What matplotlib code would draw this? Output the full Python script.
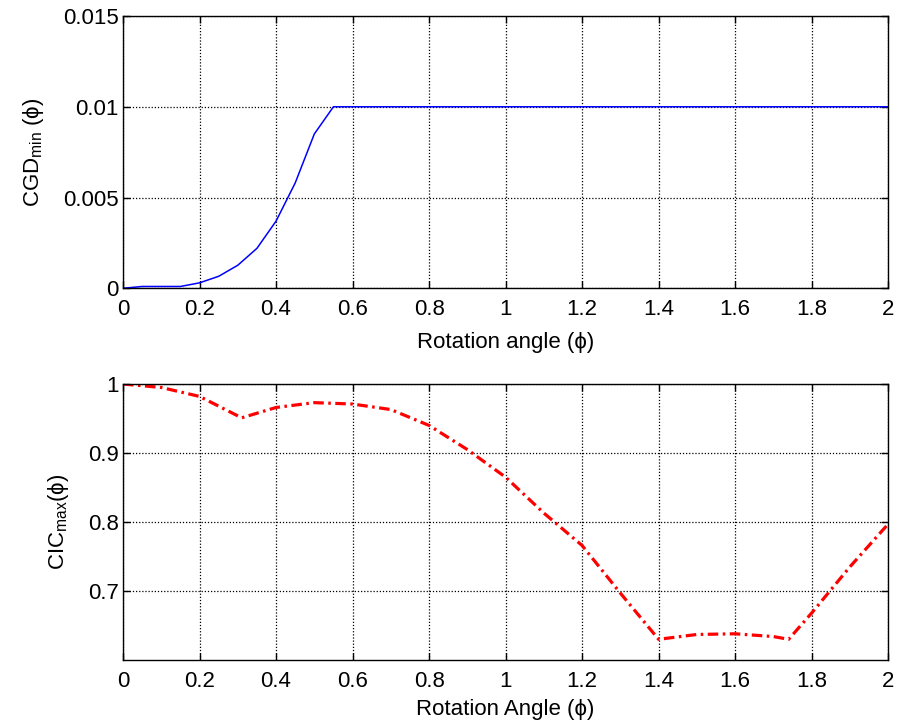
import matplotlib
matplotlib.use("Agg")
import matplotlib.pyplot as plt
import numpy as np

plt.rcParams['font.family'] = ['Liberation Sans', 'DejaVu Sans']
plt.rcParams['mathtext.default'] = 'regular'
plt.rcParams['font.size'] = 16

# Top panel data
cgd_x = [0, 0.05, 0.10, 0.15, 0.20, 0.25, 0.30, 0.35, 0.40, 0.45, 0.50, 0.55,
         0.60, 0.80, 1.00, 1.20, 1.40, 1.60, 1.80, 2.00]
cgd_y = [0, 0.0001, 0.0001, 0.0001, 0.0003, 0.00066, 0.00127, 0.0022, 0.0037,
         0.0058, 0.0085, 0.01, 0.01, 0.01, 0.01, 0.01, 0.01, 0.01, 0.01, 0.01]

# Bottom panel data
cic_x = [0, 0.1, 0.2, 0.31, 0.4, 0.5, 0.6, 0.7, 0.8, 0.9, 1.0, 1.1, 1.2, 1.3,
         1.4, 1.5, 1.6, 1.7, 1.74, 1.8, 1.9, 2.0]
cic_y = [1.0, 0.995, 0.982, 0.951, 0.966, 0.973, 0.971, 0.963, 0.940, 0.905,
         0.865, 0.813, 0.766, 0.697, 0.630, 0.637, 0.638, 0.634, 0.630, 0.668,
         0.735, 0.797]

x_ticks = [0, 0.2, 0.4, 0.6, 0.8, 1.0, 1.2, 1.4, 1.6, 1.8, 2.0]
x_ticklabels = ['0', '0.2', '0.4', '0.6', '0.8', '1', '1.2', '1.4', '1.6', '1.8', '2']
top_yticks = [0, 0.005, 0.01, 0.015]
top_yticklabels = ['0', '0.005', '0.01', '0.015']
bot_yticks = [0.7, 0.8, 0.9, 1.0]
bot_yticklabels = ['0.7', '0.8', '0.9', '1']

fig = plt.figure(figsize=(8.98, 7.28), dpi=100)
ax1 = fig.add_axes([0.137, 0.604, 0.852, 0.374])
ax2 = fig.add_axes([0.137, 0.0934, 0.852, 0.3791])

def style(ax):
    ax.grid(True, color='black', linestyle=(0, (1, 1.5)), linewidth=0.9)
    ax.tick_params(direction='in', length=5, width=1, colors='black', labelsize=16)
    ax.tick_params(axis='x', pad=8)
    ax.tick_params(axis='y', pad=3)
    for s in ax.spines.values():
        s.set_linewidth(1.0)
        s.set_color('black')
    ax.set_xticks(x_ticks)
    ax.set_xticklabels(x_ticklabels)
    ax.set_xlim(0, 2)
    ax.tick_params(top=True, right=True)

ax1.plot(cgd_x, cgd_y, color='blue', linewidth=1.1)
style(ax1)
ax1.set_ylim(0, 0.015)
ax1.set_yticks(top_yticks)
ax1.set_yticklabels(top_yticklabels)
ax1.set_xlabel('Rotation angle (ϕ)', fontsize=16, labelpad=8)
ax1.set_ylabel('CGD$_{min}$ (ϕ)', fontsize=16, labelpad=12)

ax2.plot(cic_x, cic_y, color='red', linewidth=2.3,
         linestyle=(0, (3.3, 1.4, 0.8, 1.4)), dash_capstyle='butt')
style(ax2)
ax2.set_ylim(0.6, 1.0)
ax2.set_yticks(bot_yticks)
ax2.set_yticklabels(bot_yticklabels)
ax2.set_xlabel('Rotation Angle (ϕ)', fontsize=16, labelpad=5)
ax2.set_ylabel('CIC$_{max}$(ϕ)', fontsize=16, labelpad=12)

fig.savefig('out.png', dpi=100)
